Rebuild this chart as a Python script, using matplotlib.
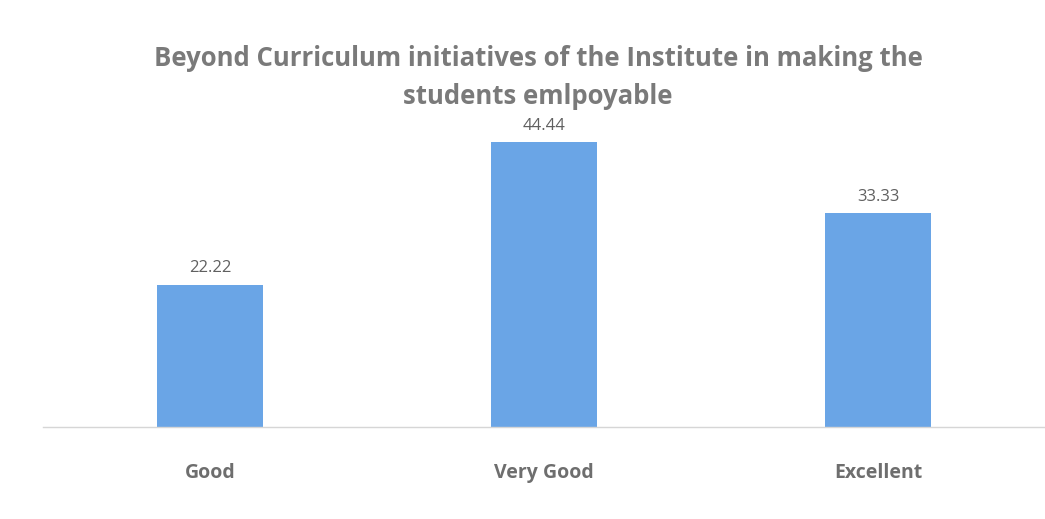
import matplotlib.pyplot as plt

categories = ["Good", "Very Good", "Excellent"]
values = [22.22, 44.44, 33.33]
value_labels = ["22.22", "44.44", "33.33"]

title = "Beyond Curriculum initiatives of the Institute in making the\nstudents emlpoyable"

fig = plt.figure(figsize=(10.45, 5.19), dpi=100)
ax = fig.add_axes([43 / 1045, 1 - 427 / 519, 1002 / 1045, 327 / 519])

x = range(len(categories))
bars = ax.bar(x, values, width=0.315, color="#6aa5e6")

for bar, lbl in zip(bars, value_labels):
    ax.text(bar.get_x() + bar.get_width() / 2, bar.get_height() + 1.3, lbl,
            ha="center", va="bottom", fontsize=12, color="#606060",
            family="Open Sans")

ax.set_xlim(-0.5, len(categories) - 0.5)
ax.set_ylim(0, 51)
ax.set_xticks(list(x))
ax.set_xticklabels(categories, fontsize=14, color="#6e6e6e", family="Open Sans",
                   fontweight="bold")
ax.tick_params(axis="x", length=0, pad=26)
ax.set_yticks([])

for side in ("top", "right", "left"):
    ax.spines[side].set_visible(False)
ax.spines["bottom"].set_color("#d6d6d6")
ax.spines["bottom"].set_linewidth(1.0)

fig.text(538 / 1045, 1 - 45 / 519, title, ha="center", va="top",
         fontsize=18.5, color="#7a7a7a", family="Open Sans", fontweight="bold",
         linespacing=1.5)

fig.savefig("out.png", dpi=100)
